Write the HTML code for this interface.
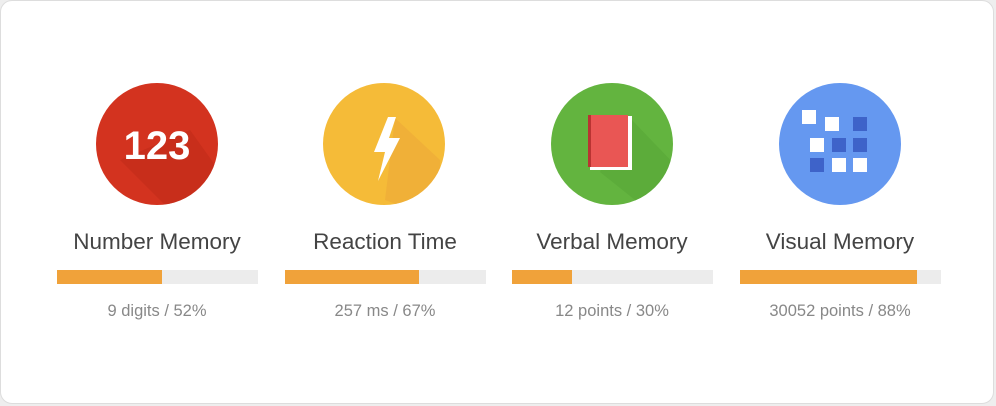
<!DOCTYPE html><html><head><style>
body{margin:0;width:996px;height:406px;background:#eeeeee;font-family:"Liberation Sans",sans-serif;overflow:hidden}
.card{position:absolute;left:0;top:0;width:992px;height:402px;background:#fff;border:1px solid #ddd;border-radius:12px}
.lbl{position:absolute;width:228px;text-align:center;top:228px;font-size:22.5px;color:#444;line-height:28px}
.st{position:absolute;width:228px;text-align:center;top:301px;font-size:16.5px;color:#888;line-height:20px}
.bar{position:absolute;top:270px;height:14px;width:201px;background:#ececec}
.bar div{height:100%;background:#f0a23a}
</style></head><body><div class="card"></div>
<svg width="996" height="406" style="position:absolute;left:0;top:0">
<defs><clipPath id="c1"><circle cx="157" cy="144" r="61"/></clipPath><clipPath id="c2"><circle cx="384" cy="144" r="61"/></clipPath><clipPath id="c3"><circle cx="612" cy="144" r="61"/></clipPath></defs>
<circle cx="157" cy="144" r="61" fill="#d3331f"/>
<polygon clip-path="url(#c1)" points="120,160 190,130 240,200 180,220" fill="#bd2a18" opacity="0.5"/>
<text x="157" y="159" text-anchor="middle" font-family="Liberation Sans" font-weight="bold" font-size="40" fill="#fff">123</text>
<circle cx="384" cy="144" r="61" fill="#f5bb38"/>
<polygon clip-path="url(#c2)" points="395,118 440,160 440,220 385,200" fill="#eba538" opacity="0.5"/>
<polygon points="388,117 374,152 385,152 378,181 400,138 389,138 396,117" fill="#fff"/>
<circle cx="612" cy="144" r="61" fill="#63b43f"/>
<polygon clip-path="url(#c3)" points="628,116 680,170 660,220 600,172" fill="#55a335" opacity="0.5"/>
<rect x="590" y="116" width="42" height="54" fill="#fff"/>
<rect x="588" y="115" width="40" height="52" fill="#e95654"/>
<rect x="588" y="115" width="3" height="52" fill="#b93432"/>
<circle cx="840" cy="144" r="61" fill="#6598f0"/>
<g fill="#fff"><rect x="802" y="110" width="14" height="14"/><rect x="825" y="117" width="14" height="14"/><rect x="810" y="138" width="14" height="14"/><rect x="832" y="158" width="14" height="14"/><rect x="853" y="158" width="14" height="14"/></g>
<g fill="#3e63c9"><rect x="853" y="117" width="14" height="14"/><rect x="832" y="138" width="14" height="14"/><rect x="853" y="138" width="14" height="14"/><rect x="810" y="158" width="14" height="14"/></g>
</svg>
<div class="lbl" style="left:43px">Number Memory</div>
<div class="lbl" style="left:271px">Reaction Time</div>
<div class="lbl" style="left:498px">Verbal Memory</div>
<div class="lbl" style="left:726px">Visual Memory</div>
<div class="bar" style="left:57px"><div style="width:105px"></div></div>
<div class="bar" style="left:285px"><div style="width:134px"></div></div>
<div class="bar" style="left:512px"><div style="width:60px"></div></div>
<div class="bar" style="left:740px"><div style="width:177px"></div></div>
<div class="st" style="left:43px">9 digits / 52%</div>
<div class="st" style="left:271px">257 ms / 67%</div>
<div class="st" style="left:498px">12 points / 30%</div>
<div class="st" style="left:726px">30052 points / 88%</div>
</body></html>
